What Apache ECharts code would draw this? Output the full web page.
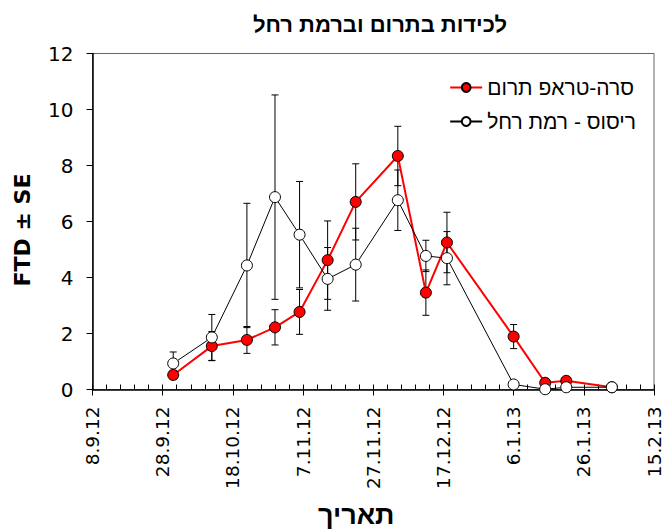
<!DOCTYPE html>
<html>
<head>
<meta charset="utf-8">
<script src="https://cdn.jsdelivr.net/npm/echarts@6/dist/echarts.min.js"></script>
<style>html,body{margin:0;padding:0;background:#fff}#c{width:669px;height:531px}</style>
</head>
<body>
<div id="c"></div>
<script>
// ---- data ----
const titleText = 'לכידות בתרום וברמת רחל';
const xName = 'תאריך';
const yName = 'FTD ± SE';
const startDate = '2012-09-08';
const tickLabels = ['8.9.12','28.9.12','18.10.12','7.11.12','27.11.12','17.12.12','6.1.13','26.1.13','15.2.13'];
const dates = ['2012-10-01','2012-10-12','2012-10-22','2012-10-30','2012-11-06','2012-11-14','2012-11-22',
               '2012-12-04','2012-12-12','2012-12-18','2013-01-06','2013-01-15','2013-01-21','2013-02-03'];
const seriesRedName = 'סרה-טראפ תרום';
const redValues = [0.52,1.55,1.77,2.22,2.77,4.62,6.70,8.34,3.46,5.25,1.89,0.24,0.31,0.08];
const redSE     = [0.16,0.52,0.48,0.63,0.80,1.40,1.36,1.06,0.81,1.08,0.43,0.08,0.05,0.02];
const seriesWhiteName = 'ריסוס - רמת רחל';
const whiteValues = [0.93,1.86,4.43,6.87,5.53,3.95,4.46,6.76,4.77,4.69,0.18,0.01,0.08,0.08];
const whiteSE     = [0.41,0.82,2.22,3.65,1.90,1.12,1.30,1.08,0.56,0.95,0.05,0.00,0.02,0.02];

// ---- helpers ----
function dayOffset(s){
  const p = s.split('-').map(Number), q = startDate.split('-').map(Number);
  return Math.round((Date.UTC(p[0],p[1]-1,p[2]) - Date.UTC(q[0],q[1]-1,q[2]))/86400000);
}
const xs = dates.map(dayOffset);
const redData = xs.map((x,i)=>[x, redValues[i]]);
const whiteData = xs.map((x,i)=>[x, whiteValues[i]]);
const redErr = xs.map((x,i)=>[x, redValues[i]-redSE[i], redValues[i]+redSE[i]]);
const whiteErr = xs.map((x,i)=>[x, whiteValues[i]-whiteSE[i], whiteValues[i]+whiteSE[i]]);

function errRender(params, api){
  const x = api.value(0), lo = api.value(1), hi = api.value(2);
  if (hi - lo < 0.02) return;
  const pHi = api.coord([x, hi]), pLo = api.coord([x, lo]);
  const w = 3.5;
  const st = {stroke:'#000', lineWidth:1};
  return {type:'group', children:[
    {type:'line', shape:{x1:pHi[0],y1:pHi[1],x2:pLo[0],y2:pLo[1]}, style:st},
    {type:'line', shape:{x1:pHi[0]-w,y1:pHi[1],x2:pHi[0]+w,y2:pHi[1]}, style:st},
    {type:'line', shape:{x1:pLo[0]-w,y1:pLo[1],x2:pLo[0]+w,y2:pLo[1]}, style:st}
  ]};
}

const FONT = 'DejaVu Sans';
const HFONT = 'Liberation Sans';
const chart = echarts.init(document.getElementById('c'), null, {renderer:'svg'});
chart.setOption({
  animation:false,
  backgroundColor:'#fff',
  title:{text:titleText, left:375, textAlign:'center', top:8,
    textStyle:{fontFamily:HFONT, fontSize:22, fontWeight:'bold', color:'#000'}},
  legend:{right:28, top:72, orient:'vertical', itemGap:13, itemWidth:32, itemHeight:11,
    textStyle:{fontFamily:HFONT, fontSize:21, color:'#000'},
    data:[seriesRedName, seriesWhiteName]},
  grid:{left:92.5, right:15, top:53.5, bottom:141.5, outerBoundsMode:'none', containLabel:false,
    show:true, borderColor:'#666', borderWidth:1},
  xAxis:[{
    type:'value', min:0, max:160, interval:20,
    name:xName, nameLocation:'middle', nameGap:112,
    nameTextStyle:{fontFamily:HFONT, fontSize:27, fontWeight:'bold', color:'#000', padding:[0,34,0,0]},
    axisLine:{lineStyle:{color:'#000', width:1.5}},
    axisTick:{show:true, inside:false, length:6, lineStyle:{color:'#000'}},
    axisLabel:{rotate:90, margin:17, fontFamily:FONT, fontSize:18.5, color:'#000',
      formatter:v=>tickLabels[Math.round(v/20)] ?? ''},
    splitLine:{show:false}
  },{
    type:'value', min:0, max:160, interval:4, position:'bottom',
    axisLine:{show:false},
    axisTick:{show:true, inside:true, length:5, lineStyle:{color:'#000'}},
    axisLabel:{show:false}, splitLine:{show:false}
  }],
  yAxis:{
    type:'value', min:0, max:12, interval:2,
    name:yName, nameLocation:'middle', nameGap:59,
    nameTextStyle:{fontFamily:FONT, fontSize:22, fontWeight:'bold', color:'#000', padding:[0,17,0,0]},
    axisLine:{show:true, lineStyle:{color:'#000', width:1.5}},
    axisTick:{show:true, inside:false, length:6, lineStyle:{color:'#000'}},
    axisLabel:{margin:19, fontFamily:FONT, fontSize:20, color:'#000'},
    splitLine:{show:false}
  },
  series:[
    {type:'custom', name:'errRed', renderItem:errRender, data:redErr, z:1, silent:true,
      encode:{x:0, y:[1,2]}},
    {type:'custom', name:'errWhite', renderItem:errRender, data:whiteErr, z:1, silent:true,
      encode:{x:0, y:[1,2]}},
    {type:'line', name:seriesRedName, data:redData, z:3, symbol:'circle', symbolSize:11,
      lineStyle:{color:'#ff0000', width:2}, itemStyle:{color:'#ff0000', borderColor:'#000', borderWidth:1}},
    {type:'line', name:seriesWhiteName, data:whiteData, z:4, symbol:'circle', symbolSize:11,
      lineStyle:{color:'#000', width:1}, itemStyle:{color:'#fff', borderColor:'#000', borderWidth:1}}
  ]
});
</script>
</body>
</html>
